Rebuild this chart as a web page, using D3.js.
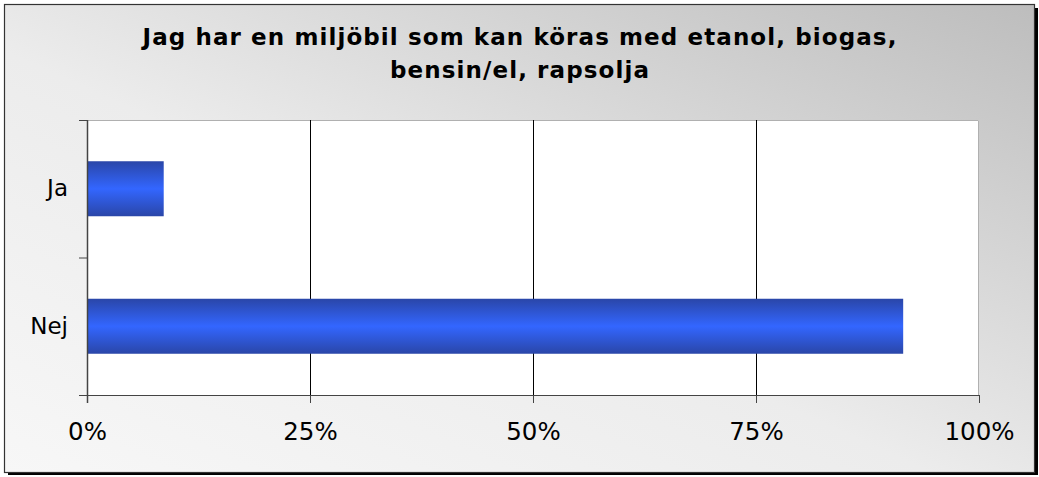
<!DOCTYPE html>
<html>
<head>
<meta charset="utf-8">
<script src="https://cdn.jsdelivr.net/npm/d3@7"></script>
<style>
  body { margin: 0; background: #fff; }
  text { font-family: "DejaVu Sans", Verdana, sans-serif; }
</style>
</head>
<body>
<div id="chart-area"></div>
<script>
// data
var categories = ["Ja", "Nej"];
var values = [8.6, 91.5];
var xTicks = [0, 25, 50, 75, 100];
var titleLines = ["Jag har en miljöbil som kan köras med etanol, biogas,", "bensin/el, rapsolja"];

var W = 1039, H = 477;
var margin = { left: 87, right: 60, top: 120, bottom: 82 };
var width = W - margin.left - margin.right;
var height = H - margin.top - margin.bottom;

var svg = d3.select("#chart-area").append("svg")
  .attr("width", W)
  .attr("height", H);

var defs = svg.append("defs");
var bg = defs.append("linearGradient").attr("id", "bg")
  .attr("x1", "0%").attr("y1", "100%").attr("x2", "100%").attr("y2", "0%");
bg.append("stop").attr("offset", "0%").attr("stop-color", "#f7f7f7");
bg.append("stop").attr("offset", "45%").attr("stop-color", "#ececec");
bg.append("stop").attr("offset", "100%").attr("stop-color", "#bdbdbd");

var barGrad = defs.append("linearGradient").attr("id", "bar")
  .attr("x1", "0%").attr("y1", "0%").attr("x2", "0%").attr("y2", "100%");
barGrad.append("stop").attr("offset", "0%").attr("stop-color", "#2a46a8");
barGrad.append("stop").attr("offset", "50%").attr("stop-color", "#3366ff");
barGrad.append("stop").attr("offset", "100%").attr("stop-color", "#2a46a8");

// frame shadow + frame
svg.append("rect")
  .attr("x", 8).attr("y", 8).attr("width", 1030).attr("height", 467)
  .attr("fill", "#000");
svg.append("rect")
  .attr("x", 4.5).attr("y", 4.5).attr("width", 1030).attr("height", 468)
  .attr("fill", "url(#bg)")
  .attr("stroke", "#333").attr("stroke-width", 1.2);

// title
svg.append("text")
  .attr("x", 520).attr("y", 45)
  .attr("text-anchor", "middle")
  .attr("font-size", "23px")
  .attr("font-weight", "bold")
  .attr("letter-spacing", "1.1px")
  .selectAll("tspan")
  .data(titleLines)
  .enter().append("tspan")
  .attr("x", 520)
  .attr("dy", (d, i) => i === 0 ? 0 : 33)
  .text(d => d);

var g = svg.append("g")
  .attr("transform", `translate(${margin.left}, ${margin.top})`);

// plot area
g.append("rect")
  .attr("width", width).attr("height", height)
  .attr("fill", "#fff");
g.append("path")
  .attr("d", `M0,0.5H${width - 0.5}V${height}`)
  .attr("fill", "none")
  .attr("stroke", "#b0b0b0");

var x = d3.scaleLinear().domain([0, 100]).range([0, width]);
var y = d3.scaleBand().domain(categories).range([0, height]).paddingInner(0.6).paddingOuter(0.3);

// gridlines
g.selectAll(".grid")
  .data(xTicks.slice(1, -1))
  .enter().append("line")
  .attr("x1", d => Math.round(x(d)) + 0.5).attr("x2", d => Math.round(x(d)) + 0.5)
  .attr("y1", 0).attr("y2", height)
  .attr("stroke", "#000").attr("stroke-width", 1);

// bars
g.selectAll(".bar")
  .data(values)
  .enter().append("rect")
  .attr("x", 0)
  .attr("y", (d, i) => y(categories[i]))
  .attr("width", d => x(d))
  .attr("height", y.bandwidth())
  .attr("fill", "url(#bar)");

// x axis
var xAxisCall = d3.axisBottom(x)
  .tickValues(xTicks)
  .tickSize(8)
  .tickPadding(20)
  .tickFormat(d => d + "%");
var xAxisGroup = g.append("g")
  .attr("transform", `translate(0, ${height})`)
  .call(xAxisCall);
xAxisGroup.select(".domain").attr("d", `M-8,0.5H${width}`).attr("stroke", "#444");
xAxisGroup.selectAll(".tick line").attr("stroke", "#444");
xAxisGroup.selectAll("text")
  .attr("font-size", "24.5px")
  .attr("fill", "#000")
  .style("font-family", "'DejaVu Sans', Verdana, sans-serif");

// y axis
var yAxisCall = d3.axisLeft(y).tickSize(0).tickPadding(19);
var yAxisGroup = g.append("g").call(yAxisCall);
yAxisGroup.select(".domain").attr("d", `M0.5,0V${height + 8}`).attr("stroke", "#444").attr("stroke-width", 1.5);
yAxisGroup.selectAll("text")
  .attr("font-size", "23px")
  .attr("fill", "#000")
  .style("font-family", "'DejaVu Sans', Verdana, sans-serif");

// category separators on y axis
var yTickPos = [0, height / 2, height];
g.selectAll(".ytick")
  .data(yTickPos)
  .enter().append("line")
  .attr("x1", -8).attr("x2", 0)
  .attr("y1", d => d + 0.5).attr("y2", d => d + 0.5)
  .attr("stroke", "#444");
</script>
</body>
</html>
